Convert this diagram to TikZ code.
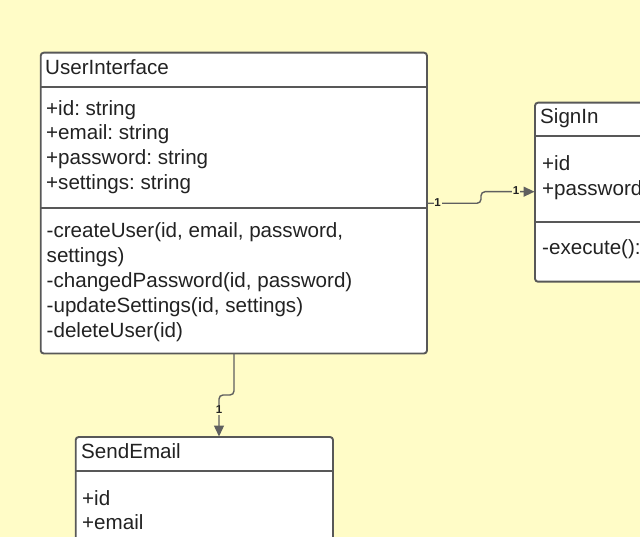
\documentclass[tikz,border=0pt]{standalone}
\usepackage{fontspec}
\setmainfont{Liberation Sans}
\usetikzlibrary{arrows.meta}
\definecolor{bgyellow}{RGB}{255,252,199}
\definecolor{boxline}{RGB}{88,88,88}
\definecolor{conn}{RGB}{95,95,95}
\definecolor{txt}{RGB}{34,34,34}
\frenchspacing
\begin{document}
\begin{tikzpicture}[x=1pt,y=-1pt,
  classbox/.style={draw=boxline,line width=1.9pt,fill=white,rounded corners=3pt},
  divider/.style={draw=boxline,line width=1.9pt},
  member/.style={anchor=base west,inner sep=0pt,text=txt,font=\fontsize{20.6}{24}\selectfont},
  connector/.style={draw=conn,line width=1.4pt,rounded corners=4pt},
  tip/.style={-{Triangle[length=11pt,width=10pt]}},
  mult/.style={fill=bgyellow,inner sep=0.8pt,text=txt,font=\fontsize{11.5}{12}\selectfont\bfseries}
]
\useasboundingbox (0,0) rectangle (640,537);
\fill[bgyellow] (0,0) rectangle (640,537);
\clip (0,0) rectangle (640,537);

% UserInterface
\draw[classbox] (40.7,52.7) coordinate (uiNW) rectangle (427,353.5) coordinate (uiSE);
\draw[divider] (40.7,86.7) -- (427,86.7);
\draw[divider] (40.7,208.3) -- (427,208.3);
\node[member] (uiT) at (45,74.3) {UserInterface};
\node[member] (uiA1) at (46,115.2) {+id: string};
\node[member] (uiA2) at (46,140) {+email: string};
\node[member] (uiA3) at (46,164.8) {+password: string};
\node[member] (uiA4) at (46,189.6) {+settings: string};
\node[member] (uiM1) at (46.5,238) {-createUser(id, email, password,};
\node[member] (uiM2) at (46.5,262.8) {settings)};
\node[member] (uiM3) at (46.5,287.6) {-changedPassword(id, password)};
\node[member] (uiM4) at (46.5,312.4) {-updateSettings(id, settings)};
\node[member] (uiM5) at (46.5,337.2) {-deleteUser(id)};

% SignIn
\draw[classbox] (535,102.7) rectangle (720,281.7);
\draw[divider] (535,135.7) -- (720,135.7);
\draw[divider] (535,221.7) -- (720,221.7);
\node[member] (siT) at (540,124) {SignIn};
\node[member] (siA1) at (542,171) {+id};
\node[member] (siA2) at (542,195.8) {+password};
\node[member] (siM1) at (542,255) {-execute():};

% SendEmail
\draw[classbox] (75.7,437) rectangle (333,600);
\draw[divider] (75.7,470.7) -- (333,470.7);
\node[member] (seT) at (81,458) {SendEmail};
\node[member] (seA1) at (82,505) {+id};
\node[member] (seA2) at (82,529.8) {+email};

% connectors
\coordinate (c1s) at (427,203.3);
\coordinate (c1e) at (534.5,191.7);
\draw[connector,tip] (c1s) -- (481,203.3) -- (481,191.7) -- (c1e);
\node[mult] (m1a) at (437.5,202.5) {1};
\node[mult] (m1b) at (516,191) {1};

\coordinate (c2s) at (234,353.5);
\coordinate (c2e) at (219,436.5);
\draw[connector,tip] (c2s) -- (234,395) -- (219,395) -- (c2e);
\node[mult] (m2) at (219,410) {1};
\end{tikzpicture}
\end{document}
